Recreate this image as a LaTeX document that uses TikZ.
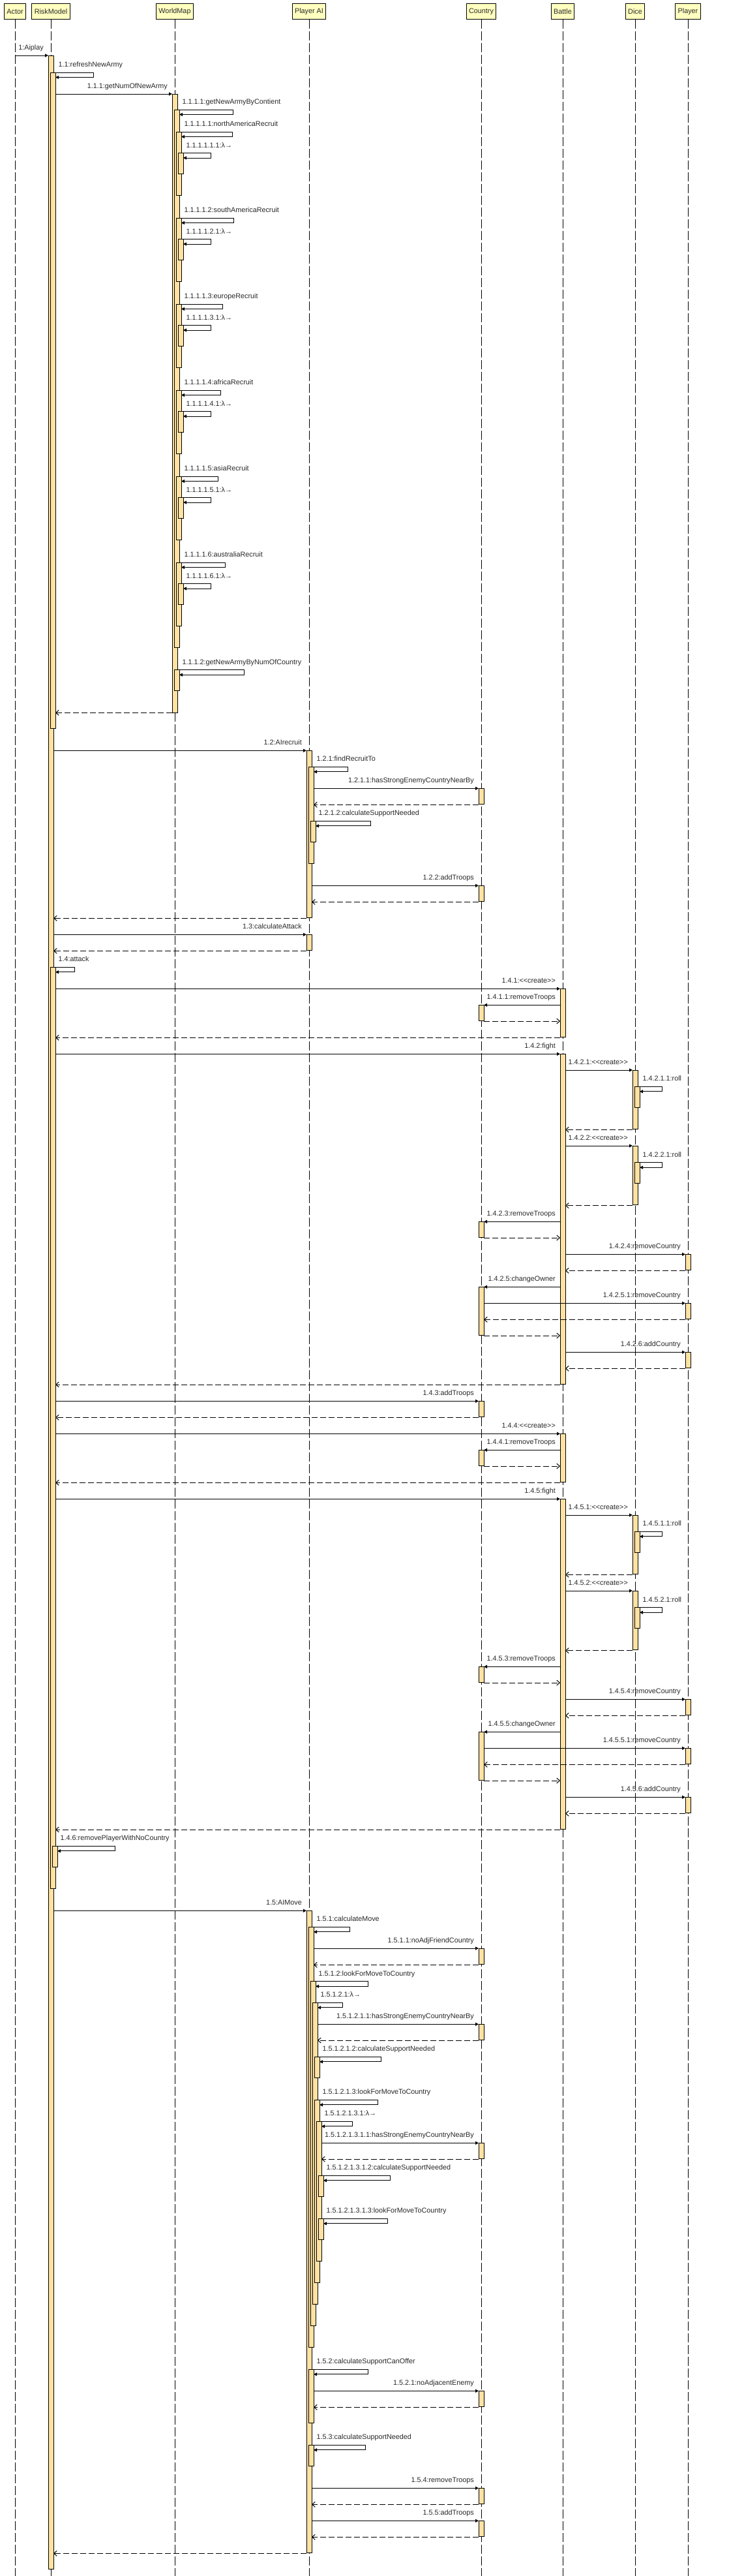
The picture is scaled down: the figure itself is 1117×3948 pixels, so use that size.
\documentclass[tikz,border=0pt]{standalone}
\usepackage{fontspec}
\setmainfont{Liberation Sans}
\usetikzlibrary{arrows.meta,calc}
\definecolor{hdrfill}{RGB}{255,255,192}
\definecolor{actfill}{RGB}{255,226,162}
\definecolor{txt}{RGB}{40,40,40}
\newcounter{k}
\tikzset{
 hdr/.style={draw=black, fill=hdrfill, line width=1pt, anchor=north, minimum height=24pt, inner xsep=4pt, inner ysep=0pt, font=\fontsize{10.8}{12}\selectfont, text=txt},
 actbox/.style={draw=black, fill=actfill, line width=1pt, anchor=north west, minimum width=8pt, inner sep=0pt, outer sep=0pt},
 life/.style={line width=1pt, dash pattern=on 14pt off 4pt},
 call/.style={line width=1pt, -{Triangle[length=5pt,width=5pt]}},
 ret/.style={line width=1pt, dash pattern=on 9pt off 4pt, -{Straight Barb[length=4.5pt,width=8pt]}},
 lbl/.style={inner sep=0pt, font=\fontsize{10.8}{12}\selectfont, text=txt},
}
% activation: x left, y top, y bottom
\newcommand\act[3]{\stepcounter{k}\node[actbox,minimum height={(#3)-(#2)}] (act\arabic{k}) at (#1,{#2}) {};}
% call left to right: y, x from, x to, label
\newcommand\callr[4]{\stepcounter{k}%
 \coordinate (a\arabic{k}) at (#2,{#1});%
 \coordinate (b\arabic{k}) at (#3,{#1});%
 \draw[call] (a\arabic{k}) -- (b\arabic{k});%
 \node[lbl,anchor=base east] (l\arabic{k}) at ($(b\arabic{k})+(-7,-8.5)$) {#4};}
% call right to left
\newcommand\calll[4]{\stepcounter{k}%
 \coordinate (a\arabic{k}) at (#2,{#1});%
 \coordinate (b\arabic{k}) at (#3,{#1});%
 \draw[call] (a\arabic{k}) -- (b\arabic{k});%
 \node[lbl,anchor=base east] (l\arabic{k}) at ($(a\arabic{k})+(-7,-8.5)$) {#4};}
% return
\newcommand\ret[3]{\stepcounter{k}%
 \coordinate (a\arabic{k}) at (#2,{#1});%
 \coordinate (b\arabic{k}) at (#3,{#1});%
 \draw[ret] (a\arabic{k}) -- (b\arabic{k});}
% self message: y, x source right, x loop, label
\newcommand\selfm[4]{\stepcounter{k}%
 \coordinate (a\arabic{k}) at (#2,{#1});%
 \coordinate (c\arabic{k}) at (#3,{#1+7.5});%
 \coordinate (b\arabic{k}) at ({#2+3},{#1+7.5});%
 \draw[call] (a\arabic{k}) -| (c\arabic{k}) -- (b\arabic{k});%
 \node[lbl,anchor=base west] (l\arabic{k}) at ($(a\arabic{k})+(7.5,-8.5)$) {#4};}
% continent blocks
\newcommand\contacts[1]{\act{270}{#1}{#1+97}\act{273}{#1+32.5}{#1+64.5}}
\newcommand\contmsgs[4]{%
 \selfm{#1}{275}{#4}{1.1.1.1.#2:#3Recruit}%
 \selfm{#1+32.5}{278}{323}{1.1.1.1.#2.1:λ→}}
% create blocks
\newcommand\createacts[1]{\act{859}{1515.3+#1}{1589.3+#1}\act{734}{1540.3+#1}{1564.3+#1}}
\newcommand\createmsgs[2]{%
 \callr{1515.3+#1}{85}{859}{1.4.#2:<\kern0pt<create>\kern0pt>}%
 \calll{1540.3+#1}{859}{742}{1.4.#2.1:removeTroops}%
 \ret{1565+#1}{742}{859}%
 \ret{1590.3+#1}{859}{85}}
% fight blocks
\newcommand\fightacts[1]{%
 \act{859}{1615.3+#1}{2121+#1}%
 \act{970}{1640+#1}{1730.3+#1}%
 \act{973}{1665.3+#1}{1697.3+#1}%
 \act{970}{1756+#1}{1846.3+#1}%
 \act{973}{1781.7+#1}{1813.3+#1}%
 \act{734}{1872.3+#1}{1896.3+#1}%
 \act{1051}{1922.3+#1}{1946.3+#1}%
 \act{734}{1972.3+#1}{2046+#1}%
 \act{1051}{1997.3+#1}{2021.3+#1}%
 \act{1051}{2072.3+#1}{2096.3+#1}}
\newcommand\fightmsgs[2]{%
 \callr{1615.3+#1}{85}{859}{1.4.#2:fight}%
 \callr{1640+#1}{867}{970}{1.4.#2.1:<\kern0pt<create>\kern0pt>}%
 \selfm{1665.3+#1}{978}{1015.6}{1.4.#2.1.1:roll}%
 \ret{1731.3+#1}{970}{867}%
 \callr{1756+#1}{867}{970}{1.4.#2.2:<\kern0pt<create>\kern0pt>}%
 \selfm{1781.7+#1}{978}{1015.6}{1.4.#2.2.1:roll}%
 \ret{1847.7+#1}{970}{867}%
 \calll{1872.3+#1}{859}{742}{1.4.#2.3:removeTroops}%
 \ret{1897+#1}{742}{859}%
 \callr{1922.3+#1}{867}{1051}{1.4.#2.4:removeCountry}%
 \ret{1947.3+#1}{1051}{867}%
 \calll{1972.3+#1}{859}{742}{1.4.#2.5:changeOwner}%
 \callr{1997.3+#1}{742}{1051}{1.4.#2.5.1:removeCountry}%
 \ret{2022.3+#1}{1051}{742}%
 \ret{2047+#1}{742}{859}%
 \callr{2072.3+#1}{867}{1051}{1.4.#2.6:addCountry}%
 \ret{2097.3+#1}{1051}{867}%
 \ret{2122+#1}{859}{85}}
\begin{document}
\begin{tikzpicture}[x=1pt,y=-1pt]
\fill[white] (0,0) rectangle (1117,3948);
\useasboundingbox (0,0) rectangle (1117,3948);
\coordinate (bot) at (0,3948);
% headers
\node[hdr] (hActor) at (23,5) {Actor};
\node[hdr] (hRisk) at (78,5) {RiskModel};
\node[hdr] (hWorld) at (268,5) {WorldMap};
\node[hdr] (hAI) at (474,5) {Player AI};
\node[hdr] (hCountry) at (738,5) {Country};
\node[hdr] (hBattle) at (863,5) {Battle};
\node[hdr] (hDice) at (974,5) {Dice};
\node[hdr] (hPlayer) at (1055,5) {Player};
\foreach \h in {hActor,hRisk,hWorld,hAI,hCountry,hBattle,hDice,hPlayer}
  \draw[life] (\h.south) -- (\h.south |- bot);
% ---------- activations ----------
\act{74}{85}{3937.3}
\act{77}{111}{1116.3}
\act{77}{1482.3}{2894.3}
\act{80}{2829.3}{2861}
\act{264}{144}{1092}
\act{267}{168}{992.3}
\contacts{202}\contacts{334}\contacts{466}\contacts{598}\contacts{730}\contacts{862}
\act{267}{1026.7}{1058.3}
\act{470}{1150.3}{1406}
\act{473}{1175.3}{1323.3}
\act{476}{1258.3}{1290.3}
\act{734}{1208.3}{1232.3}
\act{734}{1357.3}{1381.3}
\act{470}{1432.3}{1456.7}
\createacts{0}
\fightacts{0}
\act{734}{2147.3}{2171.3}
\createacts{682}
\fightacts{682}
\act{470}{2928.3}{3912.3}
\act{473}{2953.3}{3597.3}
\act{476}{3036.7}{3564}
\act{479}{3069.3}{3531.3}
\act{482}{3152.3}{3184.3}
\act{482}{3218.3}{3498.3}
\act{485}{3251.3}{3465}
\act{488}{3334.3}{3366}
\act{488}{3400.3}{3432.3}
\act{473}{3631.3}{3713.3}
\act{473}{3747.3}{3779.3}
\act{734}{2986}{3010.3}
\act{734}{3102.3}{3126.3}
\act{734}{3284.3}{3308.3}
\act{734}{3664.3}{3688.3}
\act{734}{3813.3}{3837.3}
\act{734}{3863.3}{3887.3}
% ---------- messages ----------
\callr{85}{23}{74}{1:Aiplay}
\selfm{111}{82}{143}{1.1:refreshNewArmy}
\callr{144}{85}{264}{1.1.1:getNumOfNewArmy}
\selfm{168}{272}{357}{1.1.1.1:getNewArmyByContient}
\contmsgs{202}{1}{northAmerica}{356}
\contmsgs{334}{2}{southAmerica}{358}
\contmsgs{466}{3}{europe}{341}
\contmsgs{598}{4}{africa}{338}
\contmsgs{730}{5}{asia}{334}
\contmsgs{862}{6}{australia}{345}
\selfm{1026.7}{272}{374}{1.1.1.2:getNewArmyByNumOfCountry}
\ret{1092.3}{264}{85}
\callr{1150.3}{82}{470}{1.2:AIrecruit}
\selfm{1175.3}{478}{533}{1.2.1:findRecruitTo}
\callr{1208.3}{481}{734}{1.2.1.1:hasStrongEnemyCountryNearBy}
\ret{1233.3}{734}{481}
\selfm{1258.3}{481}{568.6}{1.2.1.2:calculateSupportNeeded}
\callr{1357.3}{478}{734}{1.2.2:addTroops}
\ret{1382.3}{734}{478}
\ret{1407.3}{470}{82}
\callr{1432.3}{82}{470}{1.3:calculateAttack}
\ret{1457.3}{470}{82}
\selfm{1482.3}{82}{114.5}{1.4:attack}
\createmsgs{0}{1}
\fightmsgs{0}{2}
\callr{2147.3}{85}{734}{1.4.3:addTroops}
\ret{2172.3}{734}{85}
\createmsgs{682}{4}
\fightmsgs{682}{5}
\selfm{2829.3}{85}{176.8}{1.4.6:removePlayerWithNoCountry}
\callr{2928.3}{82}{470}{1.5:AIMove}
\selfm{2953.3}{478}{536.5}{1.5.1:calculateMove}
\callr{2986}{481}{734}{1.5.1.1:noAdjFriendCountry}
\ret{3011.3}{734}{481}
\selfm{3036.7}{481}{564.8}{1.5.1.2:lookForMoveToCountry}
\selfm{3069.3}{484}{525.6}{1.5.1.2.1:λ→}
\callr{3102.3}{487}{734}{1.5.1.2.1.1:hasStrongEnemyCountryNearBy}
\ret{3127}{734}{487}
\selfm{3152.3}{487}{584}{1.5.1.2.1.2:calculateSupportNeeded}
\selfm{3218.3}{487}{579.5}{1.5.1.2.1.3:lookForMoveToCountry}
\selfm{3251.3}{490}{540}{1.5.1.2.1.3.1:λ→}
\callr{3284.3}{493}{734}{1.5.1.2.1.3.1.1:hasStrongEnemyCountryNearBy}
\ret{3309}{734}{493}
\selfm{3334.3}{493}{598.8}{1.5.1.2.1.3.1.2:calculateSupportNeeded}
\selfm{3400.3}{493}{594.3}{1.5.1.2.1.3.1.3:lookForMoveToCountry}
\selfm{3631.3}{478}{564.8}{1.5.2:calculateSupportCanOffer}
\callr{3664.3}{481}{734}{1.5.2.1:noAdjacentEnemy}
\ret{3689.3}{734}{481}
\selfm{3747.3}{478}{560.3}{1.5.3:calculateSupportNeeded}
\callr{3813.3}{478}{734}{1.5.4:removeTroops}
\ret{3838.3}{734}{478}
\callr{3863.3}{478}{734}{1.5.5:addTroops}
\ret{3888.3}{734}{478}
\ret{3913.3}{470}{82}
\end{tikzpicture}
\end{document}
